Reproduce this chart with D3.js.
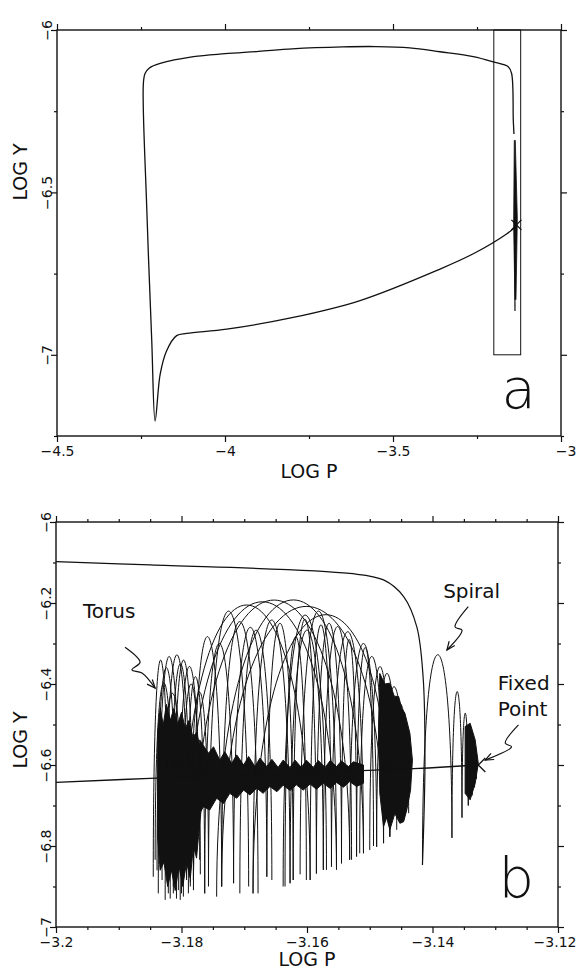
<!DOCTYPE html>
<html>
<head>
<meta charset="utf-8">
<script src="https://cdn.jsdelivr.net/npm/d3@7"></script>
<style>
  body { margin: 0; background: #fff; }
  text { font-family: "DejaVu Sans", sans-serif; fill: #111; }
</style>
</head>
<body>
<svg id="chart" width="577" height="969"></svg>
<script>
// ---------- panel a : axes ----------
const aXDomain = [-4.5, -3];
const aYDomain = [-7.25, -6];
const aXMajor = [-4.5, -4, -3.5, -3];
const aXMinor = [-4.25, -3.75, -3.25];
const aXLabels = ['\u22124.5', '\u22124', '\u22123.5', '\u22123'];
const aYMajor = [-7, -6.5, -6];
const aYMinor = [-7.25, -6.75, -6.25];
const aYLabels = ['\u22127', '\u22126.5', '\u22126'];

// ---------- panel a : trajectory (log P, log Y) ----------
const aPathP = [-3.140, -3.142, -3.147, -3.157, -3.202, -3.261, -3.36, -3.45, -3.55, -3.65, -3.8, -3.9, -4.0, -4.094,
  -4.193, -4.225, -4.238, -4.243, -4.233, -4.218, -4.208, -4.193, -4.174, -4.144, -4.114, -3.995, -3.797, -3.598,
  -3.36, -3.261, -3.162, -3.137];
const aPathY = [-6.32, -6.278, -6.134, -6.113, -6.098, -6.082, -6.067, -6.055, -6.051, -6.052, -6.058, -6.066, -6.073, -6.082,
  -6.103, -6.117, -6.134, -6.165, -6.545, -6.957, -7.204, -7.06, -6.988, -6.941, -6.934, -6.921, -6.885, -6.833,
  -6.736, -6.689, -6.628, -6.607];
// dense oscillation seen as a thick stroke
const aBandP = [-3.139, -3.136, -3.130, -3.134, -3.137, -3.141];
const aBandY = [-6.34, -6.34, -6.58, -6.83, -6.83, -6.6];
const aTailP = [-3.138, -3.137];
const aTailY = [-6.6, -6.865];
const fixedPoint = [-3.1327, -6.6];
// zoom window shown in panel b
const zoomBox = [-3.2, -3.12, -7, -6];

// ---------- panel b : axes ----------
const bXDomain = [-3.2, -3.12];
const bYDomain = [-7, -6];
const bXMajor = [-3.2, -3.18, -3.16, -3.14, -3.12];
const bXMinor = [-3.195, -3.19, -3.185, -3.175, -3.17, -3.165, -3.155, -3.15, -3.145, -3.135, -3.13, -3.125];
const bXLabels = ['\u22123.2', '\u22123.18', '\u22123.16', '\u22123.14', '\u22123.12'];
const bYMajor = [-7, -6.8, -6.6, -6.4, -6.2, -6];
const bYMinor = [-6.9, -6.7, -6.5, -6.3, -6.1];
const bYLabels = ['\u22127', '\u22126.8', '\u22126.6', '\u22126.4', '\u22126.2', '\u22126'];

// ---------- panel b : curves ----------
const bTopP = [-3.2, -3.185, -3.1532, -3.1478, -3.1446, -3.1425, -3.1415, -3.1412, -3.1416];
const bTopY = [-6.098, -6.106, -6.127, -6.143, -6.184, -6.259, -6.382, -6.588, -6.847];
const bLowP = [-3.2, -3.185, -3.143, -3.1327];
const bLowY = [-6.643, -6.633, -6.609, -6.600];

// one lobe = [left dip P, left dip Y, right dip P, right dip Y, peak Y]
const torusLobes = [
  [-3.1845, -6.876, -3.1821, -6.917, -6.341],
  [-3.1837, -6.917, -3.1802, -6.933, -6.332],
  [-3.1826, -6.933, -3.1789, -6.917, -6.328],
  [-3.1813, -6.917, -3.1781, -6.884, -6.341],
  [-3.1842, -6.834, -3.1813, -6.900, -6.398],
  [-3.1831, -6.884, -3.1797, -6.925, -6.423],
  [-3.1805, -6.909, -3.1771, -6.834, -6.357],
  [-3.1792, -6.876, -3.1763, -6.917, -6.382],
  [-3.1839, -6.860, -3.1808, -6.930, -6.360],
  [-3.1818, -6.930, -3.1786, -6.900, -6.350],
  [-3.1800, -6.900, -3.1770, -6.870, -6.400],
  [-3.1786, -6.890, -3.1757, -6.860, -6.420],
  [-3.1800, -6.917, -3.1595, -6.884, -6.205],
  [-3.1792, -6.884, -3.1553, -6.859, -6.197],
  [-3.1781, -6.909, -3.1532, -6.834, -6.193],
  [-3.1744, -6.925, -3.1510, -6.818, -6.193],
  [-3.1736, -6.900, -3.1478, -6.793, -6.209],
  [-3.1686, -6.917, -3.1468, -6.777, -6.230],
  [-3.1781, -6.884, -3.1736, -6.900, -6.283],
  [-3.1736, -6.900, -3.1678, -6.917, -6.246],
  [-3.1707, -6.917, -3.1656, -6.884, -6.267],
  [-3.1686, -6.917, -3.1627, -6.892, -6.242],
  [-3.1638, -6.900, -3.1569, -6.859, -6.230],
  [-3.1635, -6.900, -3.1601, -6.884, -6.283],
  [-3.1627, -6.892, -3.1574, -6.859, -6.267],
  [-3.1595, -6.884, -3.1561, -6.851, -6.254],
  [-3.1574, -6.859, -3.1529, -6.834, -6.258],
  [-3.1561, -6.851, -3.1510, -6.818, -6.271],
  [-3.1532, -6.834, -3.1489, -6.802, -6.300],
  [-3.1516, -6.818, -3.1478, -6.793, -6.332],
  [-3.1500, -6.810, -3.1468, -6.777, -6.357],
  [-3.1489, -6.802, -3.1457, -6.760, -6.374],
  [-3.1478, -6.793, -3.1446, -6.736, -6.407],
  [-3.1468, -6.777, -3.1438, -6.719, -6.448],
  [-3.1763, -6.917, -3.1717, -6.892, -6.300],
  [-3.1717, -6.892, -3.1664, -6.876, -6.260],
  [-3.1664, -6.876, -3.1622, -6.884, -6.250],
  [-3.1622, -6.884, -3.1585, -6.868, -6.240],
  [-3.1585, -6.868, -3.1545, -6.843, -6.250],
  [-3.1545, -6.843, -3.1521, -6.826, -6.290],
  [-3.1521, -6.826, -3.1494, -6.800, -6.310],
  [-3.1757, -6.900, -3.1693, -6.900, -6.220],
  [-3.1611, -6.870, -3.1553, -6.850, -6.220]
];
const spiralLobes = [
  [-3.1416, -6.847, -3.1369, -6.780, -6.328],
  [-3.1369, -6.780, -3.1353, -6.730, -6.419],
  [-3.1353, -6.730, -3.1343, -6.700, -6.472],
  [-3.1343, -6.700, -3.1337, -6.675, -6.515],
  [-3.1337, -6.675, -3.1333, -6.655, -6.545],
  [-3.1333, -6.655, -3.1330, -6.635, -6.565]
];

// solid black regions where the orbit is too dense to resolve
const denseLeft = [[-3.1838, -6.52], [-3.1834, -6.46], [-3.1829, -6.50], [-3.1824, -6.45], [-3.1818, -6.49],
  [-3.1812, -6.46], [-3.1806, -6.50], [-3.1800, -6.47], [-3.1794, -6.51], [-3.1788, -6.49], [-3.1782, -6.53],
  [-3.1776, -6.52], [-3.1770, -6.56], [-3.1768, -6.70], [-3.1772, -6.76], [-3.1776, -6.83], [-3.1781, -6.80],
  [-3.1786, -6.88], [-3.1792, -6.84], [-3.1798, -6.90], [-3.1804, -6.85], [-3.1810, -6.91], [-3.1816, -6.86],
  [-3.1822, -6.90], [-3.1828, -6.84], [-3.1834, -6.86], [-3.1838, -6.78]];
const denseBand = [[-3.1771, -6.538], [-3.1757, -6.571], [-3.1749, -6.555], [-3.1739, -6.588], [-3.1731, -6.567],
  [-3.1720, -6.596], [-3.1712, -6.575], [-3.1701, -6.600], [-3.1693, -6.579], [-3.1683, -6.604], [-3.1675, -6.583],
  [-3.1664, -6.604], [-3.1656, -6.586], [-3.1646, -6.606], [-3.1638, -6.588], [-3.1627, -6.606], [-3.1619, -6.588],
  [-3.1609, -6.606], [-3.1601, -6.588], [-3.1590, -6.606], [-3.1582, -6.589], [-3.1571, -6.606], [-3.1563, -6.589],
  [-3.1553, -6.604], [-3.1545, -6.590], [-3.1534, -6.604], [-3.1526, -6.592], [-3.1510, -6.600],
  [-3.1510, -6.645], [-3.1521, -6.653], [-3.1532, -6.641], [-3.1542, -6.655], [-3.1553, -6.643], [-3.1563, -6.658],
  [-3.1574, -6.645], [-3.1585, -6.660], [-3.1595, -6.647], [-3.1606, -6.662], [-3.1617, -6.649], [-3.1627, -6.663],
  [-3.1638, -6.650], [-3.1648, -6.666], [-3.1659, -6.653], [-3.1670, -6.670], [-3.1680, -6.657], [-3.1691, -6.674],
  [-3.1701, -6.662], [-3.1712, -6.682], [-3.1723, -6.670], [-3.1733, -6.695], [-3.1744, -6.682], [-3.1755, -6.711],
  [-3.1765, -6.703], [-3.1771, -6.719]];
const denseRight = [[-3.1484, -6.374], [-3.1476, -6.40], [-3.1468, -6.398], [-3.1461, -6.43], [-3.1454, -6.431],
  [-3.1449, -6.46], [-3.1444, -6.472], [-3.1436, -6.522], [-3.1432, -6.588], [-3.1435, -6.662], [-3.1441, -6.711],
  [-3.1446, -6.74], [-3.1452, -6.744], [-3.1460, -6.72], [-3.1468, -6.760], [-3.1473, -6.73], [-3.1478, -6.752],
  [-3.1484, -6.670], [-3.1486, -6.505]];
const denseCone = [[-3.1348, -6.505], [-3.1340, -6.497], [-3.1332, -6.538], [-3.1327, -6.596], [-3.1332, -6.645],
  [-3.1340, -6.686], [-3.1348, -6.670]];

// annotations (text anchor + squiggly arrow, in data units)
const notes = [
  { lines: ['Torus'], at: [-3.1957, -6.237], arrow: [[-3.1890, -6.309], [-3.1866, -6.346], [-3.1879, -6.365], [-3.1863, -6.373], [-3.1842, -6.410]] },
  { lines: ['Spiral'], at: [-3.1383, -6.188], arrow: [[-3.1343, -6.209], [-3.1364, -6.259], [-3.1353, -6.267], [-3.1377, -6.316]] },
  { lines: ['Fixed', 'Point'], at: [-3.1296, -6.415], arrow: [[-3.1263, -6.501], [-3.1284, -6.546], [-3.1274, -6.555], [-3.1316, -6.588]] }
];

const svg = d3.select('#chart');
const ink = '#111';

const ax = d3.scaleLinear().domain(aXDomain).range([57, 561]);
const ay = d3.scaleLinear().domain(aYDomain).range([436, 30]);
const bx = d3.scaleLinear().domain(bXDomain).range([56, 558]);
const by = d3.scaleLinear().domain(bYDomain).range([927, 522]);

const styleText = (sel, size) => sel.selectAll('text')
  .attr('fill', ink).style('font-family', '"DejaVu Sans", sans-serif').style('font-size', size + 'px');

function drawFrame(x, y, xMajor, xMinor, xLabels, yMajor, yMinor, yLabels) {
  const [x0, x1] = x.range();
  const [y1, y0] = y.range();
  const g = svg.append('g');
  const lab = (vals, labels) => d => labels[vals.indexOf(d)];
  const none = () => '';
  const strip = s => s.select('.domain').remove();

  const bottom = g.append('g').attr('transform', `translate(0,${y1})`)
    .call(d3.axisBottom(x).tickValues(xMajor).tickSize(6).tickPadding(4).tickSizeOuter(0).tickFormat(lab(xMajor, xLabels)))
    .call(strip);
  styleText(bottom, 14);
  // keep the right-most label inside the page
  bottom.selectAll('text').filter(d => x(d) + 22 > 577).attr('text-anchor', 'end').attr('x', 576 - x1);
  g.append('g').attr('transform', `translate(0,${y1})`)
    .call(d3.axisBottom(x).tickValues(xMinor).tickSize(3).tickFormat(none)).call(strip);
  g.append('g').attr('transform', `translate(0,${y0})`)
    .call(d3.axisTop(x).tickValues(xMajor).tickSize(6).tickFormat(none)).call(strip);
  g.append('g').attr('transform', `translate(0,${y0})`)
    .call(d3.axisTop(x).tickValues(xMinor).tickSize(3).tickFormat(none)).call(strip);

  const left = g.append('g').attr('transform', `translate(${x0},0)`)
    .call(d3.axisLeft(y).tickValues(yMajor).tickSize(6).tickFormat(lab(yMajor, yLabels)))
    .call(strip);
  styleText(left, 14);
  left.selectAll('text')
    .attr('transform', 'rotate(-90)').attr('x', 0).attr('y', -5).attr('dy', 0).attr('text-anchor', 'middle');
  g.append('g').attr('transform', `translate(${x0},0)`)
    .call(d3.axisLeft(y).tickValues(yMinor).tickSize(3).tickFormat(none)).call(strip);
  g.append('g').attr('transform', `translate(${x1},0)`)
    .call(d3.axisRight(y).tickValues(yMajor).tickSize(6).tickFormat(none)).call(strip);
  g.append('g').attr('transform', `translate(${x1},0)`)
    .call(d3.axisRight(y).tickValues(yMinor).tickSize(3).tickFormat(none)).call(strip);

  g.selectAll('.tick line').attr('stroke', ink).attr('stroke-width', 1.2);
  g.append('rect').attr('x', x0).attr('y', y0).attr('width', x1 - x0).attr('height', y1 - y0)
    .attr('fill', 'none').attr('stroke', ink).attr('stroke-width', 1.4);
  return g;
}

function axisTitles(x, y, yMid, xBase) {
  const [x0, x1] = x.range();
  svg.append('text').attr('x', (x0 + x1) / 2).attr('y', xBase).attr('text-anchor', 'middle')
    .style('font-size', '19px').text('LOG P');
  svg.append('text').attr('transform', `translate(27,${yMid}) rotate(-90)`).attr('text-anchor', 'middle')
    .style('font-size', '19px').text('LOG Y');
}

function cross(g, x, y, p, r) {
  const cx = x(p[0]), cy = y(p[1]);
  g.append('path').attr('d', `M${cx - r},${cy - r}L${cx + r},${cy + r}M${cx - r},${cy + r}L${cx + r},${cy - r}`)
    .attr('stroke', ink).attr('stroke-width', 1.3).attr('fill', 'none');
}

// ================= panel a =================
drawFrame(ax, ay, aXMajor, aXMinor, aXLabels, aYMajor, aYMinor, aYLabels);
axisTitles(ax, ay, 172, 478);

const ga = svg.append('g');
const lineA = d3.line().x(d => ax(d[0])).y(d => ay(d[1])).curve(d3.curveCatmullRom.alpha(0.5));
ga.append('path').datum(d3.zip(aPathP, aPathY)).attr('d', lineA)
  .attr('fill', 'none').attr('stroke', ink).attr('stroke-width', 1.3);
ga.append('path').datum(d3.zip(aTailP, aTailY)).attr('d', d3.line().x(d => ax(d[0])).y(d => ay(d[1])))
  .attr('fill', 'none').attr('stroke', ink).attr('stroke-width', 1.2);
ga.append('path').datum(d3.zip(aBandP, aBandY))
  .attr('d', d3.line().x(d => ax(d[0])).y(d => ay(d[1])).curve(d3.curveLinearClosed))
  .attr('fill', ink).attr('stroke', ink).attr('stroke-width', 0.8);
cross(ga, ax, ay, fixedPoint, 5);
ga.append('rect')
  .attr('x', ax(zoomBox[0])).attr('y', ay(zoomBox[3]))
  .attr('width', ax(zoomBox[1]) - ax(zoomBox[0])).attr('height', ay(zoomBox[2]) - ay(zoomBox[3]))
  .attr('fill', 'none').attr('stroke', ink).attr('stroke-width', 1);
ga.append('text').attr('x', ax(-3.177)).attr('y', ay(-7.164))
  .style('font-size', '56px').style('font-weight', 200).text('a');

// ================= panel b =================
drawFrame(bx, by, bXMajor, bXMinor, bXLabels, bYMajor, bYMinor, bYLabels);
axisTitles(bx, by, 740, 966);

svg.append('clipPath').attr('id', 'clipB').append('rect')
  .attr('x', 56).attr('y', 522).attr('width', 502).attr('height', 405);
const gb = svg.append('g').attr('clip-path', 'url(#clipB)');

const lineB = d3.line().x(d => bx(d[0])).y(d => by(d[1])).curve(d3.curveCatmullRom.alpha(0.5));
const polyB = d3.line().x(d => bx(d[0])).y(d => by(d[1])).curve(d3.curveLinearClosed);

[denseLeft, denseBand, denseRight, denseCone].forEach(poly => {
  gb.append('path').attr('d', polyB(poly)).attr('fill', ink).attr('stroke', ink).attr('stroke-width', 1);
});

function lobePath(l) {
  const x0 = bx(l[0]), y0 = by(l[1]), x3 = bx(l[2]), y3 = by(l[3]), pk = by(l[4]);
  const c = (8 * pk - y0 - y3) / 6;
  const p = d3.path();
  p.moveTo(x0, y0);
  p.bezierCurveTo(x0, c, x3, c, x3, y3);
  return p.toString();
}
gb.selectAll('path.lobe').data(torusLobes.concat(spiralLobes)).join('path')
  .attr('class', 'lobe').attr('d', lobePath)
  .attr('fill', 'none').attr('stroke', ink).attr('stroke-width', 1);

gb.append('path').datum(d3.zip(bTopP, bTopY)).attr('d', lineB)
  .attr('fill', 'none').attr('stroke', ink).attr('stroke-width', 1.2);
gb.append('path').datum(d3.zip(bLowP, bLowY)).attr('d', lineB)
  .attr('fill', 'none').attr('stroke', ink).attr('stroke-width', 1.3);
cross(gb, bx, by, fixedPoint, 7);

// annotations
const squiggle = d3.line().x(d => bx(d[0])).y(d => by(d[1])).curve(d3.curveCatmullRom.alpha(0.5));
notes.forEach(n => {
  const t = svg.append('text').attr('x', bx(n.at[0])).attr('y', by(n.at[1])).style('font-size', '20px');
  n.lines.forEach((s, i) => t.append('tspan').attr('x', bx(n.at[0])).attr('dy', i ? '1.3em' : 0).text(s));
  svg.append('path').attr('d', squiggle(n.arrow)).attr('fill', 'none').attr('stroke', ink).attr('stroke-width', 1.2);
  const a = n.arrow[n.arrow.length - 1], b = n.arrow[n.arrow.length - 2];
  const tx = bx(a[0]), ty = by(a[1]);
  const ang = Math.atan2(ty - by(b[1]), tx - bx(b[0]));
  const h = 9, w = 0.4;
  svg.append('path')
    .attr('d', `M${tx - h * Math.cos(ang - w)},${ty - h * Math.sin(ang - w)}L${tx},${ty}L${tx - h * Math.cos(ang + w)},${ty - h * Math.sin(ang + w)}`)
    .attr('fill', 'none').attr('stroke', ink).attr('stroke-width', 1.2);
});

svg.append('text').attr('x', bx(-3.1295)).attr('y', by(-6.926))
  .style('font-size', '56px').style('font-weight', 200).text('b');
</script>
</body>
</html>
